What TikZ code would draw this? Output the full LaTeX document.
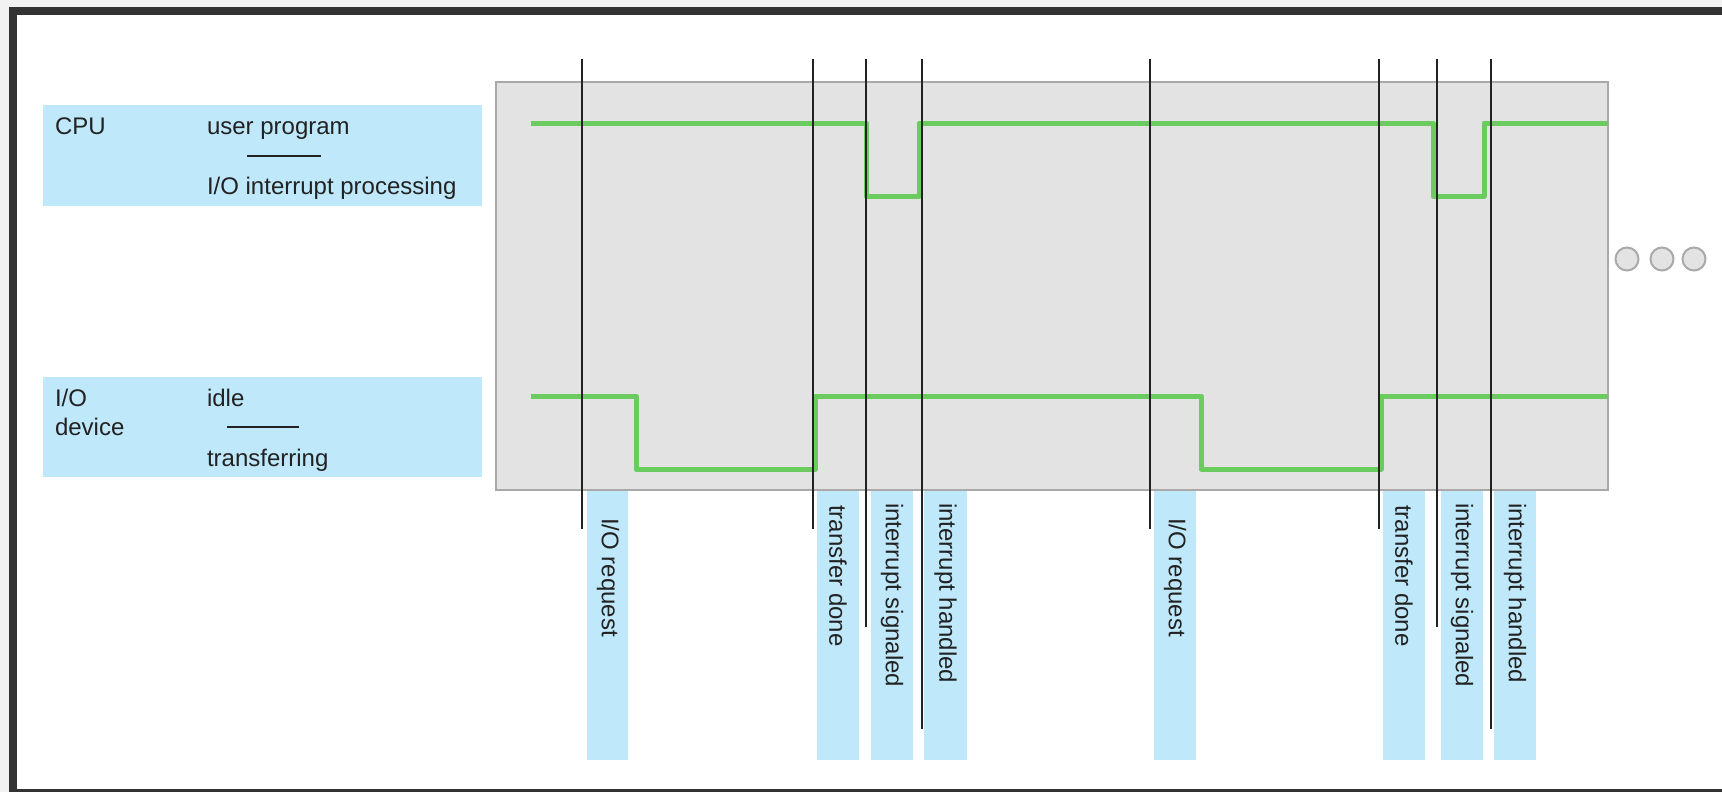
\documentclass[tikz,border=0pt]{standalone}
\usepackage{fontspec}
\setmainfont{Liberation Sans}
\definecolor{lblue}{HTML}{BFE8FA}
\definecolor{boxgray}{HTML}{E3E3E3}
\definecolor{boxedge}{HTML}{A9A9A9}
\definecolor{sig}{HTML}{6BCB5E}
\definecolor{frame}{HTML}{333333}
\definecolor{ink}{HTML}{222222}
\begin{document}
\begin{tikzpicture}[x=1pt,y=-1pt,
  txt/.style={inner sep=0pt,outer sep=0pt,text=ink,font=\fontsize{24}{28}\selectfont},
  lbl/.style={txt,anchor=base west},
  vlab/.style={txt,rotate=-90,anchor=west},
  strip/.style={fill=lblue},
  marker/.style={draw=ink,line width=2pt},
  wave/.style={draw=sig,line width=5pt,line join=round},
  sepline/.style={draw=ink,line width=2.5pt},
  dot/.style={circle,draw=boxedge,fill=boxgray,line width=2pt,minimum size=23pt,inner sep=0pt}]
\useasboundingbox (0,0) rectangle (1722,792);
% frame
\fill[black!5] (0,0) rectangle (1722,792);
\fill[white] (17,15) rectangle (1722,789);
\fill[frame] (9,7) rectangle (1722,15);
\fill[frame] (9,7) rectangle (17,792);
\fill[frame] (9,789) rectangle (1722,792);
% legend boxes
\fill[lblue] (43,105) rectangle (482,206);
\fill[lblue] (43,377) rectangle (482,477);
\node[lbl] (cpu) at (55,134) {CPU};
\node[lbl] (up) at (207,134) {user program};
\draw[sepline] (247,156) -- (321,156);
\node[lbl] (iop) at (207,194) {I/O interrupt processing};
\node[lbl] (io1) at (55,406) {I/O};
\node[lbl] (io2) at (55,435) {device};
\node[lbl] (idle) at (207,406) {idle};
\draw[sepline] (227,427) -- (299,427);
\node[lbl] (tr) at (207,466) {transferring};
% timeline box
\draw[fill=boxgray,draw=boxedge,line width=2pt] (496,82) rectangle (1608,490);
% label strips
\foreach \a/\b in {587/628,817/859,871/913,924/967,1154/1196,1383/1425,1441/1483,1494/1536}
  \fill[strip] (\a,491) rectangle (\b,760);
% waves
\draw[wave] (531,123) -- (866,123) -- (866,196) -- (919,196) -- (919,123)
  -- (1433,123) -- (1433,196) -- (1484,196) -- (1484,123) -- (1608,123);
\draw[wave] (531,396) -- (636,396) -- (636,469) -- (815,469) -- (815,396)
  -- (1201,396) -- (1201,469) -- (1381,469) -- (1381,396) -- (1608,396);
% event markers
\foreach \x/\e in {582/529,813/529,866/627,922/729,1150/529,1379/529,1437/627,1491/729}
  \draw[marker] (\x,59) -- (\x,\e);
% event labels
\node[vlab] (r1) at (608,518) {I/O request};
\node[vlab] (d1) at (838,505) {transfer done};
\node[vlab] (s1) at (892,503) {interrupt signaled};
\node[vlab] (h1) at (945.5,503) {interrupt handled};
\node[vlab] (r2) at (1175,518) {I/O request};
\node[vlab] (d2) at (1404,505) {transfer done};
\node[vlab] (s2) at (1462,503) {interrupt signaled};
\node[vlab] (h2) at (1515,503) {interrupt handled};
% continuation dots
\node[dot] (c1) at (1627,259) {};
\node[dot] (c2) at (1662,259) {};
\node[dot] (c3) at (1694,259) {};
\end{tikzpicture}
\end{document}
